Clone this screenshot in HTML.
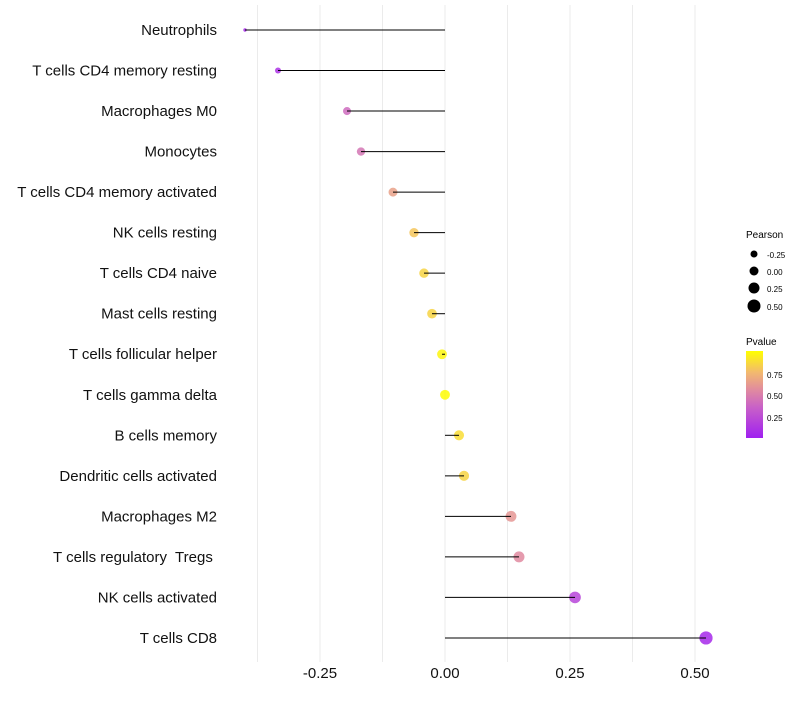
<!DOCTYPE html>
<html><head><meta charset="utf-8"><style>
body{margin:0;background:#fff;font-family:"Liberation Sans",sans-serif}
text{white-space:pre}
</style></head><body>
<svg id="chart" width="800" height="700" xmlns="http://www.w3.org/2000/svg" font-family="Liberation Sans, sans-serif">
<defs><linearGradient id="pg" x1="0" y1="1" x2="0" y2="0">
<stop offset="0" stop-color="#a020f0"/><stop offset="0.35" stop-color="#c860c8"/><stop offset="0.55" stop-color="#e08aa0"/><stop offset="0.75" stop-color="#f2b870"/><stop offset="1" stop-color="#ffff00"/></linearGradient></defs>
<g id="grid"></g><g id="marks"></g><g id="labels"></g><g id="xticks"></g>
<g>
<text x="746" y="238" font-size="10">Pearson</text>
<circle cx="754" cy="254" r="3.5" fill="#000"/><text x="767" y="258" font-size="8">-0.25</text>
<circle cx="754" cy="271" r="4.5" fill="#000"/><text x="767" y="275" font-size="8">0.00</text>
<circle cx="754" cy="288" r="5.5" fill="#000"/><text x="767" y="292" font-size="8">0.25</text>
<circle cx="754" cy="306" r="6.5" fill="#000"/><text x="767" y="310" font-size="8">0.50</text>
</g>
<g>
<text x="746" y="345" font-size="10">Pvalue</text>
<rect x="746" y="351" width="17" height="87" fill="url(#pg)"/>
<text x="767" y="378" font-size="8">0.75</text>
<text x="767" y="399" font-size="8">0.50</text>
<text x="767" y="421" font-size="8">0.25</text>
</g>
</svg>
<script>
const categories=["Neutrophils","T cells CD4 memory resting","Macrophages M0","Monocytes","T cells CD4 memory activated","NK cells resting","T cells CD4 naive","Mast cells resting","T cells follicular helper","T cells gamma delta","B cells memory","Dendritic cells activated","Macrophages M2","T cells regulatory  Tregs ","NK cells activated","T cells CD8"];
const pearson=[-0.40,-0.334,-0.196,-0.168,-0.104,-0.062,-0.042,-0.026,-0.006,0.0,0.028,0.038,0.132,0.148,0.26,0.522];
const pvalues=[0.05,0.1,0.4,0.45,0.65,0.8,0.85,0.85,0.97,0.99,0.88,0.85,0.6,0.55,0.2,0.05];
const xTicks=[-0.25,0,0.25,0.5];
const xTickLabels=["-0.25","0.00","0.25","0.50"];
const NS="http://www.w3.org/2000/svg";
function xs(v){return 445+v*500;}
function ys(i){return 30+i*40.53;}
function rs(p){return 1.7+4.9*Math.sqrt(Math.max(0,(p+0.4)/0.92));}
const stops=[[0,[160,32,240]],[0.35,[200,96,200]],[0.55,[224,138,160]],[0.75,[242,184,112]],[1,[255,255,0]]];
function col(p){for(let k=1;k<stops.length;k++){if(p<=stops[k][0]){const a=stops[k-1],b=stops[k],t=(p-a[0])/(b[0]-a[0]);return "rgb("+a[1].map((c,j)=>Math.round(c+(b[1][j]-c)*t)).join(",")+")";}}return "rgb(255,255,0)";}
function mk(t,at,par){const e=document.createElementNS(NS,t);for(const k in at)e.setAttribute(k,at[k]);par.appendChild(e);return e;}
const grid=document.getElementById('grid'),marks=document.getElementById('marks'),labels=document.getElementById('labels'),xt=document.getElementById('xticks');
[-0.375,-0.25,-0.125,0,0.125,0.25,0.375,0.5].forEach(v=>{const l=mk('line',{x1:xs(v),x2:xs(v),y1:5,y2:662,stroke:'#ebebeb','stroke-width':1},grid);

});
categories.forEach((c,i)=>{
const y=ys(i);
const t=mk('text',{x:217,y:y+5,'text-anchor':'end','font-size':15,fill:'#111'},labels);t.textContent=c;


const ci=mk('circle',{cx:xs(pearson[i]),cy:y,r:rs(pearson[i]),fill:col(pvalues[i]),'fill-opacity':0.85},marks);


const l=mk('line',{x1:xs(0),x2:xs(pearson[i]),y1:y,y2:y,stroke:'#000','stroke-width':1},marks);


});
xTicks.forEach((v,i)=>{const t=mk('text',{x:xs(v),y:678,'text-anchor':'middle','font-size':15,fill:'#111'},xt);t.textContent=xTickLabels[i];

});
</script>
</body></html>
